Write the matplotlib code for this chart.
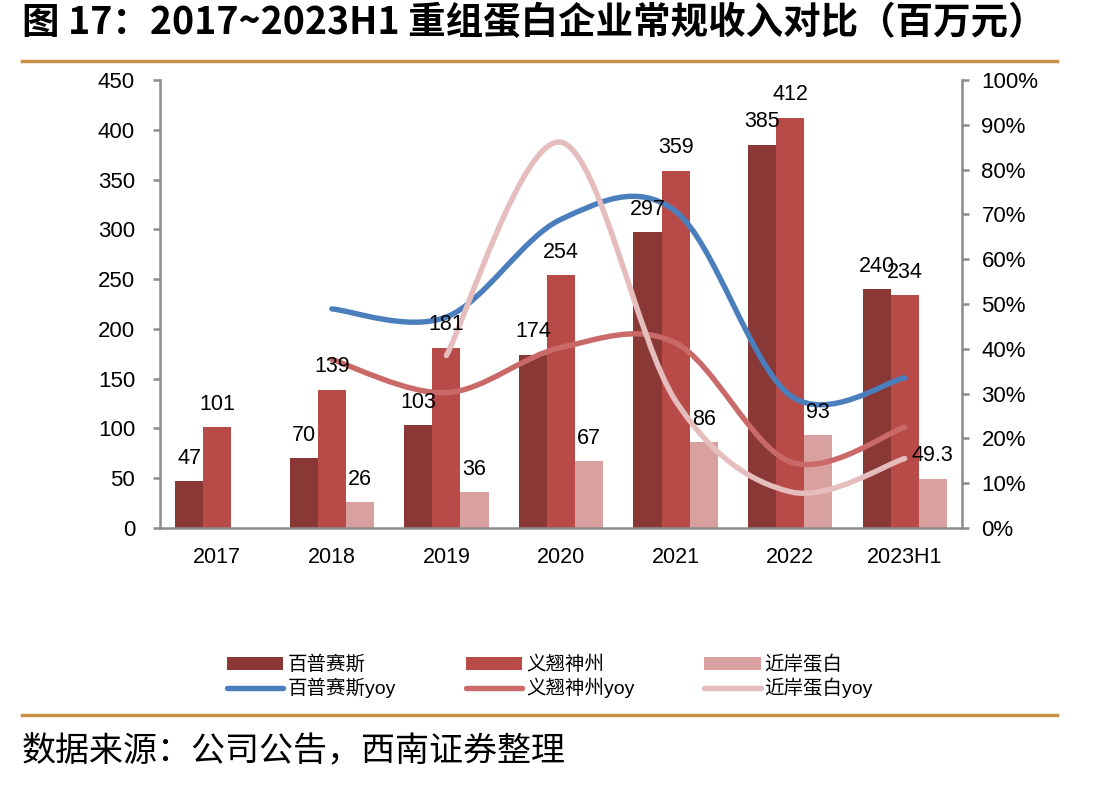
import matplotlib
matplotlib.use("Agg")
import matplotlib.pyplot as plt
import numpy as np
from matplotlib.path import Path
from matplotlib.patches import PathPatch, Patch
from matplotlib.lines import Line2D

plt.rcParams['font.family'] = ['Liberation Sans', 'Noto Sans CJK SC', 'DejaVu Sans']

categories = ['2017', '2018', '2019', '2020', '2021', '2022', '2023H1']
bps = [47, 70, 103, 174, 297, 385, 240]
yq = [101, 139, 181, 254, 359, 412, 234]
ja = [None, 26, 36, 67, 86, 93, 49.3]
bps_yoy = [None, 48.9, 47.1, 68.9, 70.7, 29.6, 33.5]
yq_yoy = [None, 37.6, 30.2, 40.3, 41.3, 14.8, 22.5]
ja_yoy = [None, None, 38.5, 86.1, 28.4, 8.1, 15.5]
bar_names = ['百普赛斯', '义翘神州', '近岸蛋白']
line_names = ['百普赛斯yoy', '义翘神州yoy', '近岸蛋白yoy']
left_ticks = [0, 50, 100, 150, 200, 250, 300, 350, 400, 450]
right_ticks = [0, 10, 20, 30, 40, 50, 60, 70, 80, 90, 100]

bar_colors = ['#893836', '#B84A48', '#D9A0A0']
line_colors = ['#4A7EBD', '#C96A69', '#E5BDBD']

fig = plt.figure(figsize=(11.19, 7.87), dpi=100)
W, H = 1119, 787
ax = fig.add_axes([160 / W, 1 - 528 / H, (962 - 160) / W, (528 - 80) / H])
ax2 = ax.twinx()

x = np.arange(len(categories))
bw = 0.245
for k, (vals, col) in enumerate(zip([bps, yq, ja], bar_colors)):
    xs = [xi + (k - 1) * bw for xi, v in zip(x, vals) if v is not None]
    vs = [v for v in vals if v is not None]
    ax.bar(xs, vs, width=bw, color=col, zorder=2)

ax.set_xlim(-0.5, len(categories) - 0.5)
ax.set_ylim(0, 450)
ax.set_yticks(left_ticks)
ax2.set_ylim(0, 100)
ax2.set_yticks(right_ticks)
ax2.set_yticklabels([f"{t}%" for t in right_ticks])
ax.set_xticks(x)
ax.set_xticklabels(categories)

spc = '#8C8C8C'
for a in (ax, ax2):
    for s in a.spines.values():
        s.set_color(spc)
        s.set_linewidth(1.8)
    a.spines['top'].set_visible(False)
ax.spines['right'].set_visible(False)
ax2.spines['left'].set_visible(False)
ax2.spines['bottom'].set_visible(False)
ax.tick_params(axis='y', length=5, width=1.8, color=spc, labelsize=16, pad=13)
ax.tick_params(axis='x', length=0, labelsize=15.5, pad=14)
ax2.tick_params(axis='y', length=5, width=1.8, color=spc, labelsize=16, pad=9)


def smooth_path(xs, ys):
    pts = np.column_stack([xs, ys]).astype(float)
    n = len(pts)
    verts = [tuple(pts[0])]
    codes = [Path.MOVETO]
    for i in range(n - 1):
        p0 = pts[max(i - 1, 0)]
        p1 = pts[i]
        p2 = pts[i + 1]
        p3 = pts[min(i + 2, n - 1)]
        c1 = p1 + (p2 - p0) / 6.0
        c2 = p2 - (p3 - p1) / 6.0
        verts += [tuple(c1), tuple(c2), tuple(p2)]
        codes += [Path.CURVE4] * 3
    return Path(verts, codes)


ax2.set_zorder(ax.get_zorder() + 1)
ax2.patch.set_visible(False)
for vals, col in zip([bps_yoy, yq_yoy, ja_yoy], line_colors):
    xs = [xi for xi, v in zip(x, vals) if v is not None]
    vs = [v for v in vals if v is not None]
    pp = PathPatch(smooth_path(xs, vs), facecolor='none', edgecolor=col, lw=3.9,
                   capstyle='round', joinstyle='round', transform=ax2.transData, zorder=3)
    ax2.add_patch(pp)

# data labels drawn in left-axis units but on the top layer
label_tf = ax.transData
for k, vals in enumerate([bps, yq, ja]):
    for xi, v in zip(x, vals):
        if v is None:
            continue
        ax2.annotate(f"{v:g}", (xi + (k - 1) * bw, v), xycoords=label_tf, xytext=(0, 9),
                     textcoords='offset points', ha='center', va='bottom',
                     fontsize=15.5, color='black', zorder=10)

handles = []
for i in range(3):
    handles.append(Patch(facecolor=bar_colors[i], edgecolor='none', label=bar_names[i]))
    handles.append(Line2D([], [], color=line_colors[i], lw=3.9, solid_capstyle='round',
                          label=line_names[i]))
fig.legend(handles=handles, ncol=3, loc='center', bbox_to_anchor=(550 / W, 1 - 677 / H),
           frameon=False, fontsize=14, handlelength=2.9, handleheight=0.6,
           columnspacing=3.6, handletextpad=0.2, labelspacing=0.2)

gold = '#C8914A'
fig.add_artist(Line2D([22 / W, 1057 / W], [1 - 61 / H, 1 - 61 / H], color=gold, lw=2.5))
fig.add_artist(Line2D([22 / W, 1057 / W], [1 - 715 / H, 1 - 715 / H], color=gold, lw=2.5))

fig.text(22 / W, 1 - 23 / H, '图 17：2017~2023H1 重组蛋白企业常规收入对比（百万元）',
         family=['Noto Sans CJK SC'], fontweight='bold', fontsize=27, va='center', ha='left')
fig.text(22 / W, 1 - 752 / H, '数据来源：公司公告，西南证券整理',
         family=['Noto Sans CJK SC'], fontsize=24.5, va='center', ha='left')

fig.savefig('out.png', dpi=100)
